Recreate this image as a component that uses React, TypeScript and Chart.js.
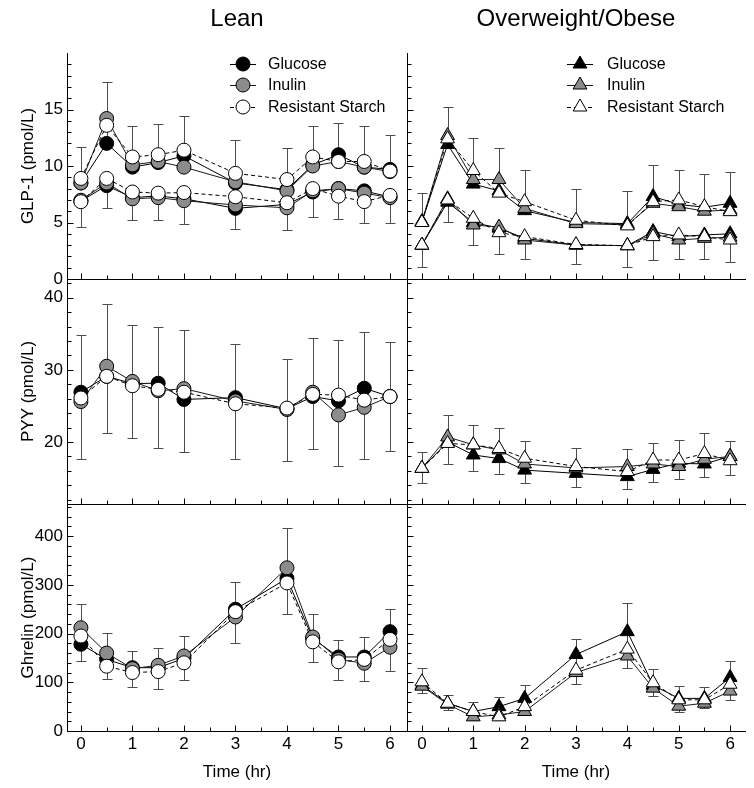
import React, { useEffect, useRef } from 'react';
import { Chart, registerables } from 'chart.js';

Chart.register(...registerables);

const W = 754;
const H = 788;
const FONT = '"Liberation Sans", Arial, Helvetica, sans-serif';

// ---------------- data ----------------
const times = [0, 0.5, 1, 1.5, 2, 3, 4, 4.5, 5, 5.5, 6];
const xTickValues = [0, 1, 2, 3, 4, 5, 6];
const seriesNames = ['Glucose', 'Inulin', 'Resistant Starch'];
const columnTitles = ['Lean', 'Overweight/Obese'];
const rowTitles = ['GLP-1 (pmol/L)', 'PYY (pmol/L)', 'Ghrelin (pmol/L)'];
const xTitle = 'Time (hr)';
const glpTicks = [0, 5, 10, 15];
const pyyTicks = [20, 30, 40];
const ghrelinTicks = [0, 100, 200, 300, 400];

// GLP-1, lean (upper and lower sets of curves)
const glpLeanUpGlucose = [8.5, 12.0, 9.9, 10.3, 10.9, 8.5, 7.9, 10.1, 11.0, 9.9, 9.7];
const glpLeanUpInulin = [8.5, 14.2, 10.1, 10.4, 9.9, 8.6, 7.8, 10.0, 10.4, 9.9, 9.5];
const glpLeanUpStarch = [8.9, 13.6, 10.8, 11.0, 11.4, 9.35, 8.8, 10.8, 10.4, 10.4, 9.55];
const glpLeanUpErrTop = [11.7, 17.4, 13.5, 13.7, 14.4, 12.3, 11.6, 13.5, 13.8, 13.5, 12.7];
const glpLeanLoGlucose = [6.9, 8.26, 7.2, 7.35, 7.1, 6.25, 6.6, 7.7, 8.0, 7.8, 7.25];
const glpLeanLoInulin = [6.97, 8.5, 7.1, 7.2, 6.93, 6.55, 6.3, 7.8, 8.0, 7.6, 7.2];
const glpLeanLoStarch = [6.84, 8.9, 7.7, 7.6, 7.65, 7.28, 6.75, 8.0, 7.33, 6.85, 7.4];
const glpLeanLoErrBottom = [4.57, 6.3, 5.2, 5.2, 4.87, 4.4, 4.3, 5.45, 5.3, 4.93, 5.0];

// GLP-1, overweight/obese
const glpObUpGlucose = [5.07, 11.9, 8.4, 7.8, 6.05, 5.0, 4.9, 7.3, 6.6, 6.35, 6.7];
const glpObUpInulin = [5.07, 12.7, 8.8, 8.8, 6.25, 4.9, 4.8, 6.7, 6.4, 6.0, 6.1];
const glpObUpStarch = [5.0, 12.4, 9.6, 7.6, 6.84, 5.2, 4.7, 6.84, 7.0, 6.4, 5.96];
const glpObUpErrTop = [7.6, 15.2, 12.5, 11.6, 9.65, 7.95, 7.8, 10.1, 9.65, 9.25, 9.45];
const glpObLoGlucose = [3.0, 6.8, 5.0, 4.5, 3.6, 3.0, 2.95, 4.2, 3.75, 3.9, 4.0];
const glpObLoInulin = [3.0, 7.1, 4.78, 4.6, 3.45, 3.0, 2.95, 4.0, 3.45, 3.6, 3.7];
const glpObLoStarch = [3.0, 7.0, 5.37, 4.1, 3.75, 3.05, 2.95, 3.75, 3.9, 3.75, 3.45];
const glpObLoErrBottom = [1.1, 5.07, 3.0, 2.2, 1.77, 1.3, 1.1, 1.7, 1.8, 1.8, 1.5];

// PYY
const pyyLeanGlucose = [26.9, 29.1, 28.1, 28.15, 25.9, 26.15, 24.6, 26.3, 25.7, 27.45, 26.3];
const pyyLeanInulin = [25.6, 30.5, 28.4, 27.1, 27.4, 25.7, 24.5, 26.9, 23.75, 24.8, 26.3];
const pyyLeanStarch = [26.1, 29.1, 27.8, 27.3, 26.9, 25.3, 24.7, 26.6, 26.5, 25.8, 26.3];
const pyyLeanErrTop = [34.9, 39.1, 36.25, 36.0, 35.5, 33.6, 31.5, 34.35, 34.2, 35.3, 33.9];
const pyyLeanErrBottom = [17.7, 21.3, 20.5, 19.1, 18.6, 17.6, 17.3, 19.0, 16.7, 17.7, 18.75];

const pyyObGlucose = [16.35, 20.0, 18.2, 17.7, 16.1, 15.65, 15.2, 16.2, 17.05, 16.95, 18.0];
const pyyObInulin = [16.35, 20.7, 19.6, 18.9, 16.95, 16.4, 16.6, 16.95, 16.6, 17.6, 18.0];
const pyyObStarch = [16.35, 19.8, 19.6, 19.1, 17.75, 16.6, 15.9, 17.5, 17.5, 18.4, 17.4];
const pyyObErrTop = [18.65, 23.7, 22.4, 21.9, 20.2, 19.1, 19.0, 19.9, 20.3, 21.2, 20.2];
const pyyObErrBottom = [14.35, 17.0, 16.0, 15.5, 14.3, 13.8, 13.5, 14.5, 14.85, 15.1, 15.4];

// Ghrelin
const ghrLeanGlucose = [178, 147, 130, 130, 149, 250, 313, 190, 152, 152, 204];
const ghrLeanInulin = [212, 160, 128, 135, 154, 234, 335, 193, 147, 139, 172];
const ghrLeanStarch = [195, 133, 120, 122, 140, 245, 304, 183, 142, 147, 188];
const ghrLeanErrTop = [260, 202, 165, 170, 195, 306, 416, 241, 187, 193, 250];
const ghrLeanErrBottom = [144, 106, 91, 86, 105, 181, 240, 142, 105, 103, 123];

const ghrObGlucose = [94, 57, 40, 50, 67, 157, 204, 94, 67, 67, 110];
const ghrObInulin = [92, 55, 29, 33, 40, 120, 154, 88, 51, 57, 82];
const ghrObStarch = [101, 57, 40, 29, 50, 125, 168, 99, 64, 64, 96];
const ghrObErrTop = [129, 74, 59, 69, 94, 189, 262, 127, 92, 91, 144];
const ghrObErrBottom = [77, 43, 23, 22, 36, 96, 130, 72, 38, 47, 64];

// ---------------- layout & style ----------------
const COLS = [
  { left: 67, right: 407, xMin: -0.27, xMax: 6.33, style: 'circle', radius: 7 },
  { left: 407, right: 746, xMin: -0.29, xMax: 6.29, style: 'triangle', radius: 8 },
];
const ROWS = [
  { top: 53, bottom: 279, yMin: 0, yMax: 20, minor: 1, major: 5, labels: glpTicks },
  { top: 279, bottom: 504, yMin: 11.4, yMax: 42.6, minor: 2, major: 10, labels: pyyTicks },
  { top: 504, bottom: 731, yMin: 0, yMax: 466, minor: 20, major: 100, labels: ghrelinTicks },
];
const FILLS = ['#000000', '#8c8c8c', '#ffffff'];
const LINE_COLORS = ['#000000', '#1a1a1a', '#000000'];
const DASHES = [[], [], [4, 3]];
const ERR_COLOR = '#4d4d4d';

interface Group {
  series: number[][];
  top?: number[];
  bottom?: number[];
}
interface PanelSpec {
  col: number;
  row: number;
  groups: Group[];
}

const panels: PanelSpec[] = [
  {
    col: 0, row: 0,
    groups: [
      { series: [glpLeanUpGlucose, glpLeanUpInulin, glpLeanUpStarch], top: glpLeanUpErrTop },
      { series: [glpLeanLoGlucose, glpLeanLoInulin, glpLeanLoStarch], bottom: glpLeanLoErrBottom },
    ],
  },
  {
    col: 1, row: 0,
    groups: [
      { series: [glpObUpGlucose, glpObUpInulin, glpObUpStarch], top: glpObUpErrTop },
      { series: [glpObLoGlucose, glpObLoInulin, glpObLoStarch], bottom: glpObLoErrBottom },
    ],
  },
  {
    col: 0, row: 1,
    groups: [{ series: [pyyLeanGlucose, pyyLeanInulin, pyyLeanStarch], top: pyyLeanErrTop, bottom: pyyLeanErrBottom }],
  },
  {
    col: 1, row: 1,
    groups: [{ series: [pyyObGlucose, pyyObInulin, pyyObStarch], top: pyyObErrTop, bottom: pyyObErrBottom }],
  },
  {
    col: 0, row: 2,
    groups: [{ series: [ghrLeanGlucose, ghrLeanInulin, ghrLeanStarch], top: ghrLeanErrTop, bottom: ghrLeanErrBottom }],
  },
  {
    col: 1, row: 2,
    groups: [{ series: [ghrObGlucose, ghrObInulin, ghrObStarch], top: ghrObErrTop, bottom: ghrObErrBottom }],
  },
];

function drawMarker(ctx: CanvasRenderingContext2D, style: string, x: number, y: number, r: number, fill: string) {
  ctx.save();
  ctx.fillStyle = fill;
  ctx.strokeStyle = '#000';
  ctx.lineWidth = 1;
  ctx.setLineDash([]);
  ctx.beginPath();
  if (style === 'triangle') {
    let rad = 0;
    const step = (2 * Math.PI) / 3;
    ctx.moveTo(x + Math.sin(rad) * r, y - Math.cos(rad) * r);
    rad += step;
    ctx.lineTo(x + Math.sin(rad) * r, y - Math.cos(rad) * r);
    rad += step;
    ctx.lineTo(x + Math.sin(rad) * r, y - Math.cos(rad) * r);
    ctx.closePath();
  } else {
    ctx.arc(x, y, r, 0, Math.PI * 2);
  }
  ctx.fill();
  ctx.stroke();
  ctx.restore();
}

function buildChart(canvas: HTMLCanvasElement, spec: PanelSpec) {
  const C = COLS[spec.col];
  const R = ROWS[spec.row];
  const isLeft = spec.col === 0;
  const isBottom = spec.row === 2;
  const isTop = spec.row === 0;
  const yW = isLeft ? 67 : 10;
  const xH = isBottom ? 56 : 10;

  const datasets: any[] = [];
  spec.groups.forEach((grp) => {
    grp.series.forEach((arr, k) => {
      datasets.push({
        label: seriesNames[k],
        data: times.map((t, j) => ({ x: t, y: arr[j] })),
        borderColor: LINE_COLORS[k],
        borderWidth: 1,
        borderDash: DASHES[k],
        pointStyle: C.style,
        pointRadius: C.radius,
        pointHoverRadius: C.radius,
        pointBackgroundColor: FILLS[k],
        pointBorderColor: '#000',
        pointBorderWidth: 1,
        order: 3 - k,
        tension: 0,
        fill: false,
      });
    });
  });

  // minor / major tick values for the inward tick marks
  const yTickMarks: { v: number; major: boolean }[] = [];
  for (let v = Math.ceil(R.yMin / R.minor) * R.minor; v <= R.yMax + 1e-9; v += R.minor) {
    const q = v / R.major;
    yTickMarks.push({ v, major: Math.abs(q - Math.round(q)) < 1e-6 });
  }
  const xTickMarks: { v: number; major: boolean }[] = [];
  times.concat([2.5, 3.5]).sort((a, b) => a - b).forEach((v) => {
    xTickMarks.push({ v, major: Number.isInteger(v) });
  });

  const errorBars = {
    id: 'errorBars',
    beforeDatasetsDraw(chart: any) {
      const { ctx, chartArea } = chart;
      const xs = chart.scales.x;
      const ys = chart.scales.y;
      ctx.save();
      ctx.beginPath();
      ctx.rect(chartArea.left, chartArea.top, chartArea.right - chartArea.left, chartArea.bottom - chartArea.top);
      ctx.clip();
      ctx.strokeStyle = ERR_COLOR;
      ctx.lineWidth = 1;
      const cap = 5;
      spec.groups.forEach((grp) => {
        times.forEach((t, i) => {
          const px = Math.round(xs.getPixelForValue(t)) + 0.5;
          const base = ys.getPixelForValue(grp.series[0][i]);
          const ends: number[] = [];
          if (grp.top) ends.push(ys.getPixelForValue(grp.top[i]));
          if (grp.bottom) ends.push(ys.getPixelForValue(grp.bottom[i]));
          ends.forEach((e) => {
            const ey = Math.round(e) + 0.5;
            ctx.beginPath();
            ctx.moveTo(px, base);
            ctx.lineTo(px, ey);
            ctx.moveTo(px - cap, ey);
            ctx.lineTo(px + cap, ey);
            ctx.stroke();
          });
        });
      });
      ctx.restore();
    },
  };

  const innerTicks = {
    id: 'innerTicks',
    afterDraw(chart: any) {
      const { ctx, chartArea } = chart;
      const xs = chart.scales.x;
      const ys = chart.scales.y;
      ctx.save();
      ctx.strokeStyle = '#000';
      ctx.lineWidth = 1;
      ctx.beginPath();
      const by = Math.round(chartArea.bottom) + 0.5;
      xTickMarks.forEach(({ v, major }) => {
        const px = Math.round(xs.getPixelForValue(v)) + 0.5;
        ctx.moveTo(px, by);
        ctx.lineTo(px, by - (major ? 6 : 4));
      });
      const lx = Math.round(chartArea.left) + 0.5;
      yTickMarks.forEach(({ v, major }) => {
        const py = Math.round(ys.getPixelForValue(v)) + 0.5;
        if (py < chartArea.top + 1 || py > chartArea.bottom - 1) return;
        ctx.moveTo(lx, py);
        ctx.lineTo(lx + (major ? 6 : 4), py);
      });
      ctx.stroke();
      ctx.restore();
    },
  };

  const header = {
    id: 'panelHeader',
    afterDraw(chart: any) {
      if (!isTop) return;
      const { ctx, chartArea } = chart;
      ctx.save();
      ctx.fillStyle = '#000';
      ctx.font = `24px ${FONT}`;
      ctx.textAlign = 'center';
      ctx.textBaseline = 'alphabetic';
      ctx.fillText(columnTitles[spec.col], (chartArea.left + chartArea.right) / 2, 26);
      ctx.restore();
    },
  };

  const legendRows = [11, 32, 54];
  const panelLegend = {
    id: 'panelLegend',
    afterDraw(chart: any) {
      if (!isTop) return;
      const { ctx, chartArea } = chart;
      const markerX = isLeft ? 176 : 173;
      const textX = isLeft ? 201 : 200;
      ctx.save();
      legendRows.forEach((dy, k) => {
        const cx = chartArea.left + markerX;
        const cy = chartArea.top + dy;
        ctx.strokeStyle = LINE_COLORS[k];
        ctx.lineWidth = 1;
        ctx.setLineDash(DASHES[k]);
        ctx.beginPath();
        ctx.moveTo(cx - 13, Math.round(cy) + 0.5);
        ctx.lineTo(cx + 13, Math.round(cy) + 0.5);
        ctx.stroke();
        ctx.setLineDash([]);
        drawMarker(ctx, C.style, cx, cy, C.radius, FILLS[k]);
        ctx.fillStyle = '#000';
        ctx.font = `16px ${FONT}`;
        ctx.textAlign = 'left';
        ctx.textBaseline = 'middle';
        ctx.fillText(seriesNames[k], chartArea.left + textX, cy + 1);
      });
      ctx.restore();
    },
  };

  return new Chart(canvas, {
    type: 'line',
    data: { datasets },
    plugins: [errorBars, innerTicks, header, panelLegend],
    options: {
      responsive: false,
      animation: false,
      devicePixelRatio: 1,
      events: [],
      layout: {
        padding: { left: C.left - yW, right: W - C.right, top: R.top, bottom: H - R.bottom - xH },
      },
      plugins: {
        legend: { display: false },
        tooltip: { enabled: false },
        title: { display: false },
      },
      scales: {
        x: {
          type: 'linear',
          position: 'bottom',
          min: C.xMin,
          max: C.xMax,
          afterFit: (s: any) => { s.height = xH; },
          afterBuildTicks: (s: any) => { s.ticks = xTickValues.map((v) => ({ value: v })); },
          grid: { display: true, drawOnChartArea: false, drawTicks: false },
          border: { display: true, color: '#000', width: 1 },
          ticks: {
            display: isBottom,
            autoSkip: false,
            maxRotation: 0,
            padding: 3,
            color: '#000',
            font: { size: 17, family: FONT },
            callback: (v: any) => String(v),
          },
          title: {
            display: isBottom,
            text: xTitle,
            color: '#000',
            font: { size: 17, family: FONT },
            padding: { top: 0, bottom: 4 },
          },
        },
        y: {
          type: 'linear',
          position: 'left',
          min: R.yMin,
          max: R.yMax,
          afterFit: (s: any) => { s.width = yW; },
          afterBuildTicks: (s: any) => { s.ticks = R.labels.map((v) => ({ value: v })); },
          grid: { display: true, drawOnChartArea: false, drawTicks: false },
          border: { display: true, color: '#000', width: 1 },
          ticks: {
            display: isLeft,
            autoSkip: false,
            padding: 4,
            color: '#000',
            font: { size: 17, family: FONT },
            callback: (v: any) => String(v),
          },
          title: {
            display: isLeft,
            text: rowTitles[spec.row],
            color: '#000',
            font: { size: 17, family: FONT },
            padding: { top: 18, bottom: 0 },
          },
        },
      },
    } as any,
  });
}

export default function App() {
  const refs = useRef<(HTMLCanvasElement | null)[]>([]);

  useEffect(() => {
    const charts: Chart[] = [];
    panels.forEach((p, i) => {
      const c = refs.current[i];
      if (c) charts.push(buildChart(c, p));
    });
    return () => {
      charts.forEach((ch) => ch.destroy());
    };
  }, []);

  return (
    <div style={{ position: 'absolute', left: 0, top: 0, width: W, height: H, background: '#fff', overflow: 'hidden' }}>
      {panels.map((p, i) => (
        <canvas
          key={i}
          ref={(el) => { refs.current[i] = el; }}
          width={W}
          height={H}
          style={{ position: 'absolute', left: 0, top: 0, width: W, height: H }}
        />
      ))}
    </div>
  );
}
